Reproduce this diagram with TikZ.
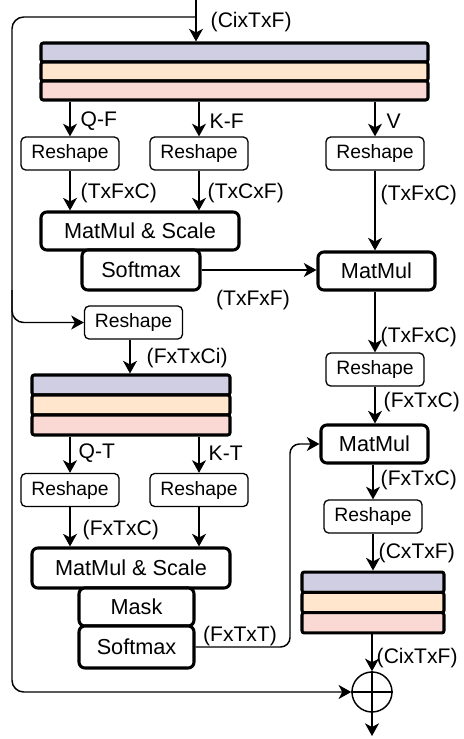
\documentclass[tikz,border=0pt]{standalone}
\usepackage{fontspec}
\setmainfont{Liberation Sans}
\usetikzlibrary{arrows.meta}
\definecolor{bandtop}{HTML}{D0CEE2}
\definecolor{bandmid}{HTML}{FFE6CC}
\definecolor{bandlow}{HTML}{FAD9D5}

\begin{document}
\begin{tikzpicture}[x=0.3mm,y=-0.3mm,line width=1.25pt,
	arr/.style={-{Stealth[length=3.8mm,width=4.2mm,inset=1.1mm]}},
	reshapebox/.style={draw,line width=1.1pt,rounded corners=4pt,minimum width=2.94cm,minimum height=0.99cm,inner sep=0pt,font=\fontsize{16.5}{18}\selectfont},
	opbox/.style={draw,line width=2.6pt,rounded corners=5pt,inner sep=0pt,fill=white,font=\fontsize{18.5}{20}\selectfont},
	band/.style={draw,line width=2.6pt,rounded corners=2pt,inner sep=0pt},
	dimlabel/.style={inner sep=0pt,anchor=west,font=\fontsize{18}{20}\selectfont}]
		\useasboundingbox (0,0) rectangle (464,739);

		\coordinate (in) at (196,0);
		\coordinate (tap) at (196,17);
		\coordinate (out) at (372,736);
		\coordinate (turn) at (290,444);

		\node[band,fill=bandtop,minimum width=11.61cm,minimum height=0.57cm] (f1) at (234.5,52.5) {};
		\node[band,fill=bandmid,minimum width=11.61cm,minimum height=0.57cm] (f2) at (234.5,71.5) {};
		\node[band,fill=bandlow,minimum width=11.61cm,minimum height=0.57cm] (f3) at (234.5,90.5) {};

		\node[reshapebox] (rQF) at (70,153.5) {Reshape};
		\node[reshapebox] (rKF) at (199,153.5) {Reshape};
		\node[reshapebox] (rV) at (375,153.5) {Reshape};

		\node[opbox,minimum width=5.94cm,minimum height=1.14cm] (mmsF) at (140,231) {MatMul \& Scale};
		\node[opbox,minimum width=3.54cm,minimum height=1.2cm] (smF) at (141,270) {Softmax};
		\node[opbox,minimum width=3.51cm,minimum height=1.14cm] (mmV) at (376.5,271) {MatMul};

		\node[reshapebox] (rIn) at (133.5,322.5) {Reshape};
		\node[reshapebox] (rR1) at (375,369.5) {Reshape};

		\node[band,fill=bandtop,minimum width=5.94cm,minimum height=0.6cm] (t1) at (131,385) {};
		\node[band,fill=bandmid,minimum width=5.94cm,minimum height=0.6cm] (t2) at (131,405) {};
		\node[band,fill=bandlow,minimum width=5.94cm,minimum height=0.6cm] (t3) at (131,425) {};

		\node[opbox,minimum width=3.21cm,minimum height=1.14cm] (mm2) at (374.5,444) {MatMul};

		\node[reshapebox] (rQT) at (70,490) {Reshape};
		\node[reshapebox] (rKT) at (199,490) {Reshape};
		\node[reshapebox] (rR2) at (373,516.5) {Reshape};

		\node[opbox,minimum width=5.94cm,minimum height=1.2cm] (mmsT) at (131,568) {MatMul \& Scale};
		\node[opbox,minimum width=3.45cm,minimum height=1.14cm] (mask) at (136.5,607) {Mask};
		\node[opbox,minimum width=3.45cm,minimum height=1.26cm] (smT) at (136.5,647) {Softmax};

		\node[band,fill=bandtop,minimum width=4.26cm,minimum height=0.61cm] (s1) at (373,582.2) {};
		\node[band,fill=bandmid,minimum width=4.26cm,minimum height=0.61cm] (s2) at (373,602.5) {};
		\node[band,fill=bandlow,minimum width=4.26cm,minimum height=0.61cm] (s3) at (373,622.8) {};

		\node[draw,circle,minimum size=1.2cm,inner sep=0pt] (plus) at (372,692) {};
		\draw (plus.north) -- (plus.south);
		\draw (plus.west) -- (plus.east);

		\draw[arr] (in) -- (in |- f1.north);
		\draw[arr,rounded corners=10pt] (tap) -- (12,17) -- (12,692) -- (plus.west);
		\draw[arr,rounded corners=10pt] (12,290) |- (rIn.west);

		\draw[arr] (rQF |- f3.south) -- (rQF.north);
		\draw[arr] (rKF |- f3.south) -- (rKF.north);
		\draw[arr] (rV |- f3.south) -- (rV.north);
		\draw[arr] (rQF.south) -- (rQF |- mmsF.north);
		\draw[arr] (rKF.south) -- (rKF |- mmsF.north);
		\draw[arr] (rV.south) -- (rV |- mmV.north);
		\draw[arr] (smF.east) -- (smF.east -| mmV.west);
		\draw[arr] (rR1 |- mmV.south) -- (rR1.north);
		\draw[arr] (rR1.south) -- (rR1 |- mm2.north);

		\draw[arr] (rIn.south -| 130,0) -- (130,0 |- t1.north);
		\draw[arr] (rQT |- t3.south) -- (rQT.north);
		\draw[arr] (rKT |- t3.south) -- (rKT.north);
		\draw[arr] (rQT.south) -- (rQT |- mmsT.north);
		\draw[arr] (rKT.south) -- (rKT |- mmsT.north);
		\draw[arr,rounded corners=8pt] (smT.east) -| (turn) -- (mm2.west);

		\draw[arr] (rR2 |- mm2.south) -- (rR2.north);
		\draw[arr] (rR2.south) -- (rR2 |- s1.north);
		\draw[arr] (plus |- s3.south) -- (plus.north);
		\draw[arr] (plus.south) -- (out);

		\node[dimlabel] (lIn) at (210,22) {(CixTxF)};
		\node[dimlabel] (lQF) at (80,121) {Q-F};
		\node[dimlabel] (lKF) at (209,121) {K-F};
		\node[dimlabel] (lV) at (386,121) {V};
		\node[dimlabel] (lQF2) at (80,193) {(TxFxC)};
		\node[dimlabel] (lKF2) at (207,193) {(TxCxF)};
		\node[dimlabel] (lV2) at (380,195) {(TxFxC)};
		\node[dimlabel,anchor=center] (lSm) at (253,300) {(TxFxF)};
		\node[dimlabel] (lMm) at (380,337) {(TxFxC)};
		\node[dimlabel] (lIn2) at (146,358) {(FxTxCi)};
		\node[dimlabel] (lR1) at (383,402) {(FxTxC)};
		\node[dimlabel] (lQT) at (78,453) {Q-T};
		\node[dimlabel] (lKT) at (208,453) {K-T};
		\node[dimlabel] (lMm2) at (380,480) {(FxTxC)};
		\node[dimlabel] (lQT2) at (82,530) {(FxTxC)};
		\node[dimlabel] (lR2) at (378,553) {(CxTxF)};
		\node[dimlabel,anchor=center] (lSmT) at (240,636) {(FxTxT)};
		\node[dimlabel] (lOut) at (376,658) {(CixTxF)};

	\end{tikzpicture}
\end{document}
